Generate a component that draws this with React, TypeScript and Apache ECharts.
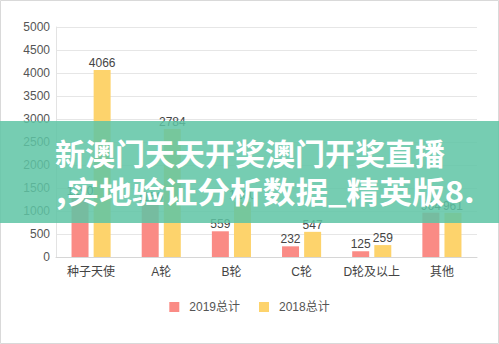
import React, { useEffect, useRef } from "react";
import * as echarts from "echarts";

const categories = ["种子天使", "A轮", "B轮", "C轮", "D轮及以上", "其他"];
const values2019 = [1290, 1159, 559, 232, 125, 964];
const values2018 = [4066, 2784, 1200, 547, 259, 961];
const seriesNames = ["2019总计", "2018总计"];
const bannerLines = ["新澳门天天开奖澳门开奖直播", ",实地验证分析数据_精英版8."];

export default function App() {
  const ref = useRef<HTMLDivElement>(null);
  useEffect(() => {
    if (!ref.current) return;
    const chart = echarts.init(ref.current, undefined, { renderer: "svg" });
    const font = "'Liberation Sans', 'Noto Sans CJK SC', sans-serif";
    chart.setOption({
      animation: false,
      backgroundColor: "#ffffff",
      textStyle: { fontFamily: font },
      grid: { left: 56, right: 22, top: 27, bottom: 87 },
      legend: {
        bottom: 26,
        left: "center",
        itemWidth: 10,
        itemHeight: 10,
        itemGap: 19,
        icon: "rect",
        textStyle: { color: "#555", fontSize: 12, padding: [0, 0, 0, 5], fontFamily: font },
        data: seriesNames,
      },
      xAxis: {
        type: "category",
        data: categories,
        axisLine: { lineStyle: { color: "#d6d6d6" } },
        axisTick: { show: false },
        axisLabel: { color: "#444", fontSize: 12, margin: 9, interval: 0, fontFamily: font },
      },
      yAxis: {
        type: "value",
        min: 0,
        max: 5000,
        interval: 500,
        axisLine: { show: true, lineStyle: { color: "#e3e3e3" } },
        axisTick: { show: false },
        splitLine: { lineStyle: { color: "#e6e6e6" } },
        axisLabel: {
          color: "#555",
          fontSize: 12,
          margin: 6,
          fontFamily: font,
          formatter: (v: number) => String(v),
        },
      },
      series: [
        {
          name: seriesNames[0],
          type: "bar",
          data: values2019,
          barWidth: 17,
          barGap: "30%",
          itemStyle: { color: "#fa8b85" },
          label: { show: true, position: "top", color: "#444", fontSize: 12, distance: 1, fontFamily: font },
        },
        {
          name: seriesNames[1],
          type: "bar",
          data: values2018,
          barWidth: 17,
          barGap: "30%",
          itemStyle: { color: "#fdd36c" },
          label: { show: true, position: "top", color: "#444", fontSize: 12, distance: 1, fontFamily: font },
        },
      ],
      graphic: [
        {
          type: "rect",
          z: 100,
          shape: { x: 0.5, y: 0.5, width: 498, height: 343 },
          style: { fill: "none", stroke: "#d9d9d9", lineWidth: 1 },
        },
        {
          type: "rect",
          z: 100,
          shape: { x: 0, y: 121, width: 499, height: 102 },
          style: { fill: "rgba(94,196,164,0.85)" },
        },
        {
          type: "text",
          z: 101,
          x: 55,
          y: 152,
          style: {
            text: bannerLines[0],
            fill: "#ffffff",
            fontSize: 30,
            fontWeight: "bold",
            fontFamily: "'Noto Sans CJK SC', sans-serif",
            verticalAlign: "middle",
            align: "left",
          },
        },
        {
          type: "text",
          z: 101,
          x: 56,
          y: 190,
          scaleX: 1.09,
          style: {
            text: bannerLines[1],
            fill: "#ffffff",
            fontSize: 30,
            fontWeight: "bold",
            fontFamily: "'Noto Sans CJK SC', sans-serif",
            verticalAlign: "middle",
            align: "left",
          },
        },
      ],
    });
    return () => chart.dispose();
  }, []);
  return (
    <div
      ref={ref}
      style={{ position: "fixed", left: 0, top: 0, width: 499, height: 344 }}
    />
  );
}
